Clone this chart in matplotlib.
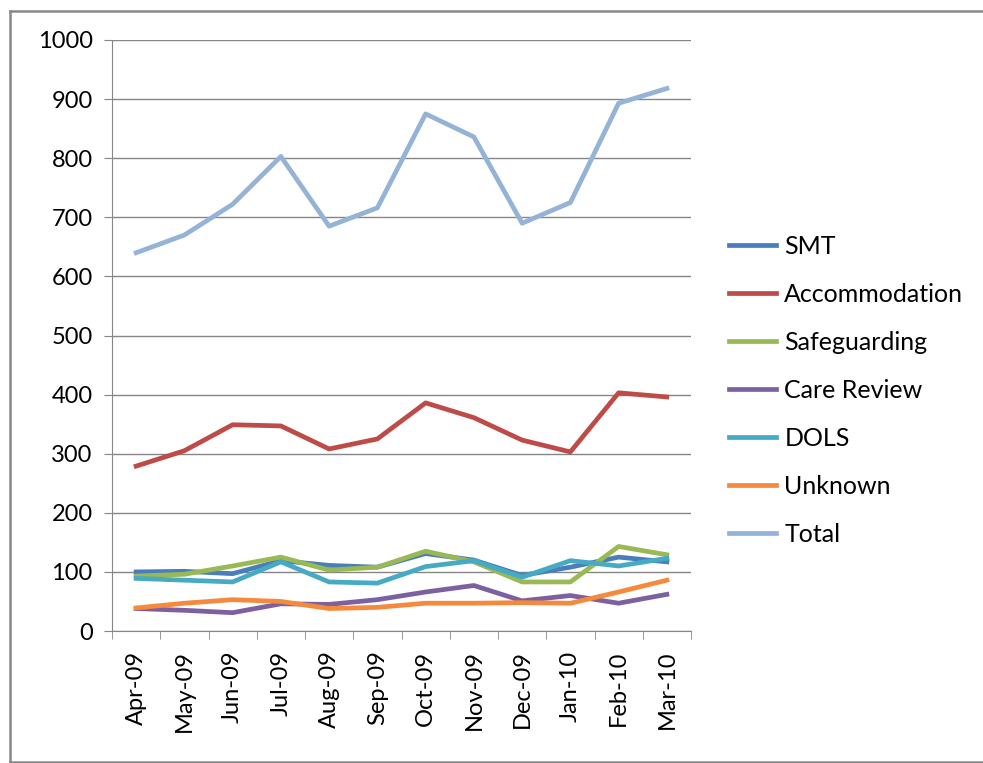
import matplotlib.pyplot as plt
from matplotlib.lines import Line2D

months = ['Apr-09', 'May-09', 'Jun-09', 'Jul-09', 'Aug-09', 'Sep-09',
          'Oct-09', 'Nov-09', 'Dec-09', 'Jan-10', 'Feb-10', 'Mar-10']

smt = [100, 101, 97, 119, 111, 108, 131, 120, 94, 108, 125, 117]
accommodation = [279, 305, 349, 347, 308, 325, 386, 361, 323, 303, 403, 396]
safeguarding = [93, 96, 110, 125, 103, 108, 135, 117, 83, 83, 143, 129]
care_review = [38, 35, 31, 46, 45, 53, 66, 77, 51, 60, 47, 62]
dols = [89, 86, 83, 117, 83, 81, 109, 119, 91, 119, 110, 123]
unknown = [39, 47, 53, 50, 38, 40, 47, 47, 48, 47, 66, 86]
total = [640, 670, 722, 803, 685, 716, 875, 836, 690, 725, 893, 918]

series = [
    ('SMT', smt, '#4A7EBB'),
    ('Accommodation', accommodation, '#BE4B48'),
    ('Safeguarding', safeguarding, '#98B954'),
    ('Care Review', care_review, '#7D60A0'),
    ('DOLS', dols, '#46AAC5'),
    ('Unknown', unknown, '#F58A3C'),
    ('Total', total, '#95B3D7'),
]

plt.rcParams['font.family'] = ['Lato', 'DejaVu Sans']

fig = plt.figure(figsize=(9.83, 7.63), dpi=100)
ax = fig.add_axes([112 / 983, 1 - 631 / 763, (691 - 112) / 983, (631 - 40) / 763])

x = list(range(len(months)))
for name, vals, col in series:
    ax.plot(x, vals, color=col, lw=3.4, label=name)

ax.set_xlim(-0.5, len(months) - 0.5)
ax.set_ylim(0, 1000)
ax.set_yticks(range(0, 1001, 100))
ax.grid(axis='y', color='#868686', lw=1)
ax.set_axisbelow(True)

ax.set_xticks(x)
ax.set_xticklabels(months, rotation=90, fontsize=17)
ax.set_xticks([i - 0.5 for i in range(len(months) + 1)], minor=True)
ax.tick_params(axis='x', which='major', length=0, pad=14)
ax.tick_params(axis='x', which='minor', length=6, color='#868686', direction='out')
ax.tick_params(axis='y', labelsize=17, length=6, color='#868686', pad=8)

for s in ['top', 'right']:
    ax.spines[s].set_visible(False)
for s in ['left', 'bottom']:
    ax.spines[s].set_color('#868686')

leg = ax.legend(loc='center left', bbox_to_anchor=(1.026, 0.407), frameon=False,
                fontsize=18, handlelength=1.9, handletextpad=0.33, labelspacing=1.0)

# outer chart frame (left, top and bottom edges only)
fx0, fy0, fy1 = 10 / 983, 1.5 / 763, 1 - 11 / 763
for xs, ys in [([fx0, fx0], [fy0, fy1]), ([fx0, 1.01], [fy1, fy1]), ([fx0, 1.01], [fy0, fy0])]:
    fig.add_artist(Line2D(xs, ys, transform=fig.transFigure, color='#888888', lw=1.8))

fig.savefig('out.png', dpi=100)
